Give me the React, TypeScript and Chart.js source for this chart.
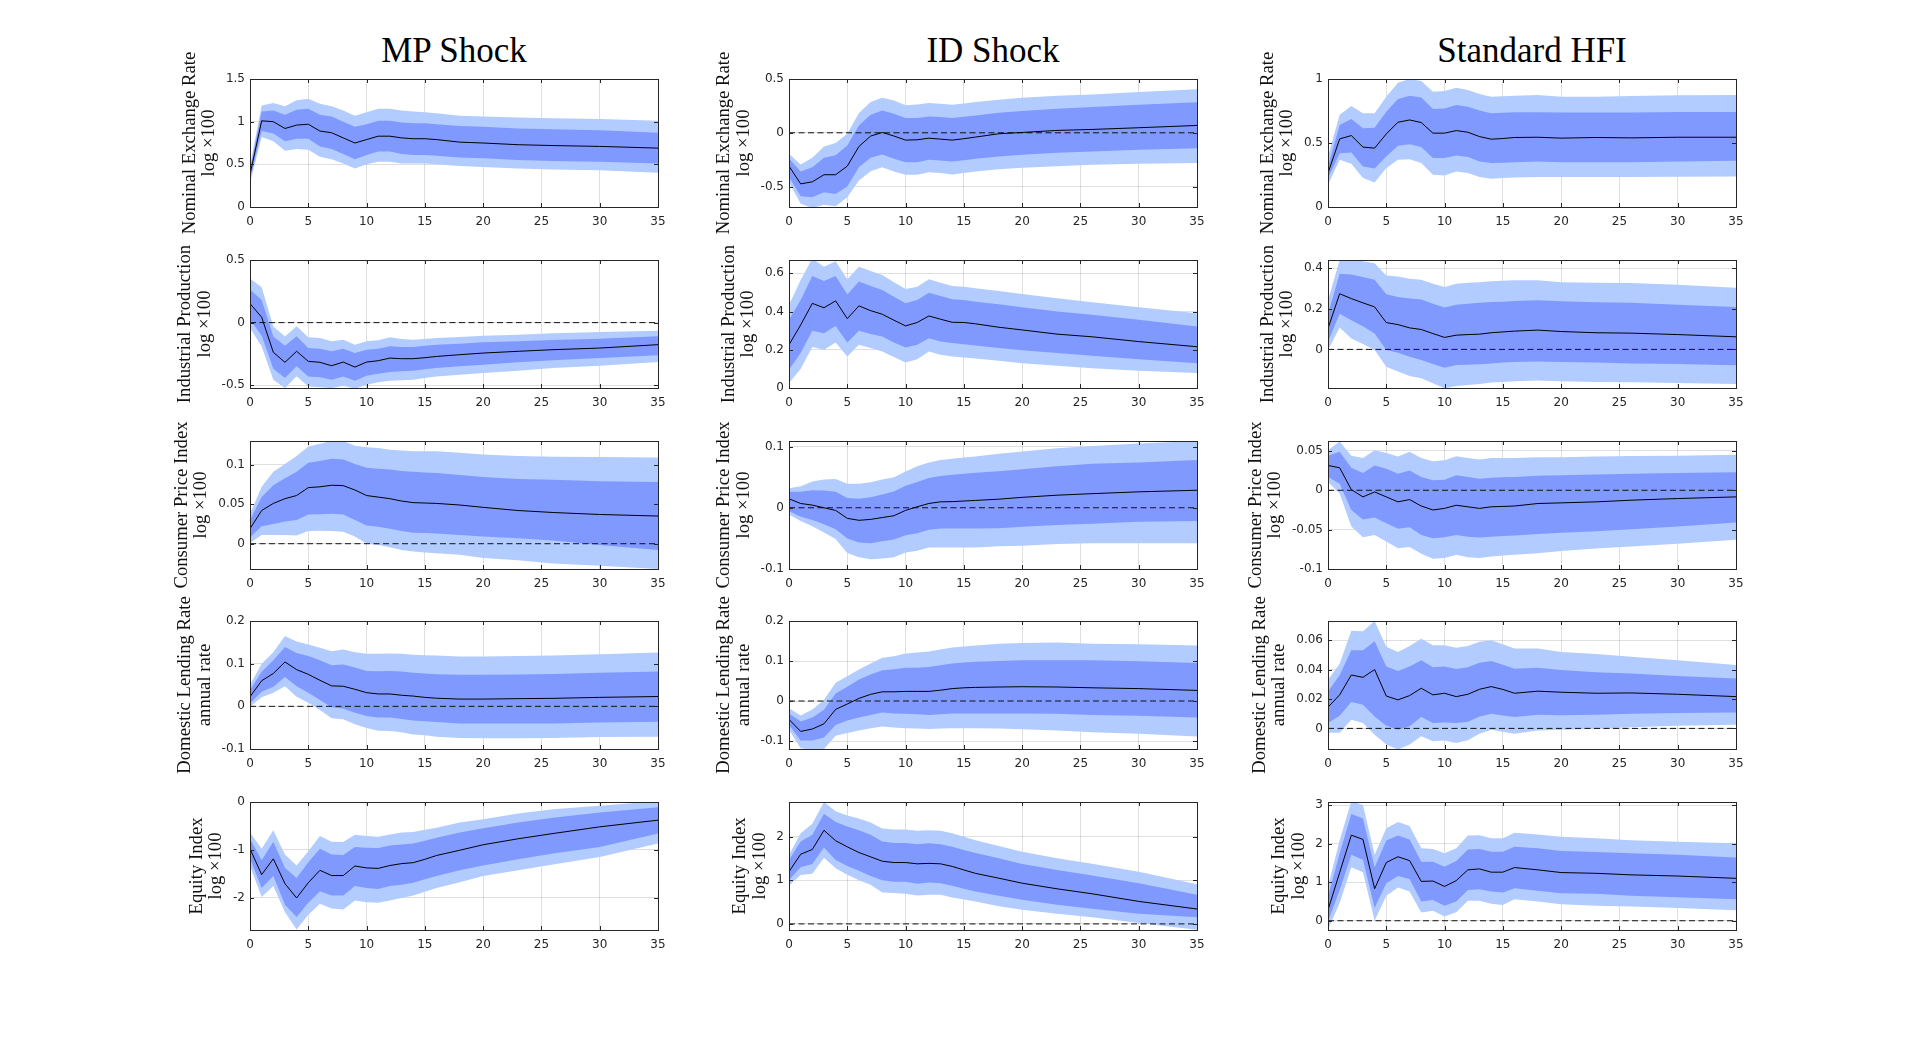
import React, { useEffect, useRef } from 'react';
import { Chart, registerables } from 'chart.js';

Chart.register(...registerables);

const horizons = [0, 1, 2, 3, 4, 5, 6, 7, 8, 9, 10, 11, 12, 13, 14, 15, 16, 18, 20, 23, 26, 30, 35];

const shockTitles = ['MP Shock', 'ID Shock', 'Standard HFI'];
const varLabels = ['Nominal Exchange Rate', 'Industrial Production', 'Consumer Price Index', 'Domestic Lending Rate', 'Equity Index'];
const unitLabels = ['log ×100', 'log ×100', 'log ×100', 'annual rate', 'log ×100'];
const xTicks = [0, 5, 10, 15, 20, 25, 30, 35];

// ---- MP shock ----
const mpNerMed = [0.38, 1.01, 1.0, 0.92, 0.96, 0.97, 0.89, 0.87, 0.81, 0.75, 0.79, 0.83, 0.83, 0.81, 0.8, 0.8, 0.79, 0.76, 0.75, 0.73, 0.72, 0.71, 0.69];
const mpNerLo68 = [0.32, 0.89, 0.86, 0.77, 0.8, 0.8, 0.71, 0.68, 0.62, 0.56, 0.61, 0.65, 0.65, 0.62, 0.61, 0.61, 0.6, 0.58, 0.57, 0.55, 0.54, 0.53, 0.51];
const mpNerHi68 = [0.44, 1.12, 1.13, 1.08, 1.14, 1.15, 1.08, 1.06, 1.0, 0.94, 0.97, 1.01, 1.01, 0.99, 0.98, 0.98, 0.97, 0.95, 0.94, 0.92, 0.91, 0.9, 0.87];
const mpNerLo90 = [0.28, 0.82, 0.77, 0.66, 0.68, 0.67, 0.59, 0.56, 0.51, 0.45, 0.5, 0.53, 0.53, 0.51, 0.51, 0.51, 0.5, 0.48, 0.47, 0.45, 0.44, 0.43, 0.4];
const mpNerHi90 = [0.48, 1.19, 1.22, 1.18, 1.25, 1.27, 1.21, 1.18, 1.13, 1.07, 1.11, 1.15, 1.15, 1.13, 1.12, 1.11, 1.1, 1.07, 1.06, 1.05, 1.04, 1.03, 1.01];

const mpIpMed = [0.152, 0.043, -0.237, -0.317, -0.229, -0.309, -0.317, -0.344, -0.315, -0.355, -0.315, -0.304, -0.283, -0.288, -0.288, -0.28, -0.27, -0.256, -0.243, -0.229, -0.216, -0.203, -0.176];
const mpIpLo68 = [0.024, -0.104, -0.368, -0.443, -0.349, -0.43, -0.437, -0.456, -0.43, -0.464, -0.424, -0.408, -0.395, -0.389, -0.384, -0.373, -0.363, -0.349, -0.336, -0.317, -0.301, -0.283, -0.261];
const mpIpHi68 = [0.264, 0.18, -0.11, -0.184, -0.109, -0.203, -0.208, -0.229, -0.208, -0.243, -0.216, -0.208, -0.189, -0.195, -0.195, -0.185, -0.176, -0.168, -0.157, -0.149, -0.139, -0.128, -0.109];
const mpIpLo90 = [-0.043, -0.19, -0.456, -0.523, -0.429, -0.51, -0.517, -0.523, -0.504, -0.528, -0.496, -0.477, -0.464, -0.461, -0.456, -0.443, -0.43, -0.416, -0.403, -0.384, -0.363, -0.344, -0.315];
const mpIpHi90 = [0.352, 0.283, -0.03, -0.11, -0.029, -0.117, -0.123, -0.149, -0.136, -0.176, -0.149, -0.141, -0.117, -0.131, -0.136, -0.13, -0.123, -0.115, -0.104, -0.096, -0.085, -0.075, -0.064];

const mpCpiMed = [0.019, 0.042, 0.051, 0.057, 0.061, 0.071, 0.072, 0.074, 0.0735, 0.068, 0.061, 0.059, 0.057, 0.054, 0.052, 0.0515, 0.051, 0.049, 0.046, 0.042, 0.0395, 0.037, 0.035];
const mpCpiLo68 = [0.008, 0.022, 0.025, 0.028, 0.03, 0.037, 0.0374, 0.038, 0.037, 0.03, 0.023, 0.0214, 0.019, 0.016, 0.014, 0.0135, 0.013, 0.011, 0.009, 0.007, 0.004, -0.0017, -0.008];
const mpCpiHi68 = [0.03, 0.059, 0.074, 0.083, 0.091, 0.1025, 0.1046, 0.1076, 0.1067, 0.101, 0.096, 0.095, 0.094, 0.092, 0.091, 0.09, 0.0895, 0.087, 0.0845, 0.082, 0.081, 0.079, 0.078];
const mpCpiLo90 = [0.001, 0.011, 0.011, 0.011, 0.0105, 0.016, 0.0164, 0.016, 0.015, 0.009, 0.0, -0.0017, -0.0046, -0.008, -0.01, -0.011, -0.012, -0.014, -0.018, -0.021, -0.025, -0.028, -0.032];
const mpCpiHi90 = [0.038, 0.072, 0.091, 0.101, 0.111, 0.123, 0.1265, 0.13, 0.13, 0.124, 0.122, 0.121, 0.119, 0.118, 0.117, 0.117, 0.117, 0.115, 0.113, 0.111, 0.11, 0.1097, 0.109];

const mpLendMed = [0.0225, 0.06, 0.077, 0.104, 0.086, 0.075, 0.061, 0.048, 0.047, 0.04, 0.032, 0.029, 0.029, 0.026, 0.024, 0.021, 0.019, 0.017, 0.017, 0.018, 0.0187, 0.021, 0.023];
const mpLendLo68 = [0.007, 0.034, 0.046, 0.069, 0.047, 0.032, 0.015, -0.002, -0.0055, -0.015, -0.0225, -0.026, -0.026, -0.0295, -0.033, -0.035, -0.037, -0.04, -0.04, -0.04, -0.04, -0.038, -0.036];
const mpLendHi68 = [0.038, 0.081, 0.108, 0.139, 0.125, 0.118, 0.108, 0.096, 0.098, 0.091, 0.083, 0.082, 0.083, 0.0816, 0.079, 0.077, 0.075, 0.074, 0.074, 0.0746, 0.076, 0.0785, 0.0816];
const mpLendLo90 = [-0.001, 0.021, 0.032, 0.047, 0.0225, 0.0085, -0.0085, -0.028, -0.03, -0.042, -0.051, -0.057, -0.058, -0.061, -0.066, -0.068, -0.071, -0.074, -0.075, -0.0746, -0.074, -0.072, -0.071];
const mpLendHi90 = [0.05, 0.1, 0.127, 0.165, 0.152, 0.145, 0.1375, 0.129, 0.133, 0.127, 0.1235, 0.123, 0.124, 0.1235, 0.121, 0.12, 0.119, 0.117, 0.117, 0.118, 0.119, 0.122, 0.126];

const mpEqMed = [-0.98, -1.52, -1.19, -1.71, -2.01, -1.69, -1.43, -1.54, -1.54, -1.34, -1.38, -1.39, -1.33, -1.29, -1.27, -1.2, -1.12, -1.01, -0.895, -0.77, -0.66, -0.52, -0.38];
const mpEqLo68 = [-1.19, -1.8, -1.55, -2.15, -2.41, -2.11, -1.87, -1.96, -1.96, -1.76, -1.8, -1.82, -1.76, -1.73, -1.69, -1.62, -1.55, -1.43, -1.33, -1.2, -1.08, -0.94, -0.66];
const mpEqHi68 = [-0.77, -1.22, -0.83, -1.38, -1.59, -1.26, -0.98, -1.1, -1.11, -0.94, -0.96, -0.965, -0.91, -0.89, -0.87, -0.81, -0.75, -0.64, -0.55, -0.43, -0.33, -0.22, -0.11];
const mpEqLo90 = [-1.34, -1.99, -1.76, -2.31, -2.67, -2.36, -2.13, -2.23, -2.25, -2.06, -2.1, -2.11, -2.06, -2.01, -1.96, -1.88, -1.8, -1.68, -1.55, -1.43, -1.31, -1.15, -0.87];
const mpEqHi90 = [-0.64, -0.98, -0.59, -1.1, -1.33, -1.03, -0.71, -0.83, -0.84, -0.685, -0.71, -0.73, -0.68, -0.64, -0.63, -0.58, -0.54, -0.43, -0.36, -0.24, -0.15, -0.08, 0.02];

// ---- ID shock ----
const idNerMed = [-0.31, -0.475, -0.456, -0.39, -0.39, -0.31, -0.127, -0.031, 0.003, -0.03, -0.068, -0.065, -0.05, -0.059, -0.068, -0.055, -0.04, -0.009, 0.003, 0.022, 0.031, 0.047, 0.068];
const idNerLo68 = [-0.41, -0.59, -0.6, -0.553, -0.568, -0.5, -0.32, -0.233, -0.202, -0.242, -0.273, -0.273, -0.25, -0.258, -0.267, -0.255, -0.242, -0.22, -0.205, -0.186, -0.174, -0.158, -0.143];
const idNerHi68 = [-0.24, -0.36, -0.32, -0.233, -0.21, -0.118, 0.068, 0.168, 0.208, 0.177, 0.137, 0.137, 0.152, 0.146, 0.137, 0.149, 0.161, 0.186, 0.202, 0.224, 0.239, 0.26, 0.283];
const idNerLo90 = [-0.46, -0.66, -0.7, -0.668, -0.683, -0.6, -0.444, -0.357, -0.32, -0.36, -0.39, -0.39, -0.366, -0.375, -0.388, -0.374, -0.36, -0.34, -0.326, -0.31, -0.298, -0.289, -0.28];
const idNerHi90 = [-0.196, -0.295, -0.233, -0.127, -0.096, -0.009, 0.183, 0.286, 0.326, 0.3, 0.255, 0.264, 0.276, 0.27, 0.26, 0.273, 0.286, 0.307, 0.326, 0.345, 0.357, 0.379, 0.404];

const idIpMed = [0.226, 0.33, 0.443, 0.42, 0.456, 0.363, 0.43, 0.405, 0.386, 0.355, 0.325, 0.343, 0.377, 0.36, 0.344, 0.343, 0.336, 0.318, 0.304, 0.282, 0.268, 0.243, 0.216];
const idIpLo68 = [0.096, 0.183, 0.3, 0.287, 0.325, 0.238, 0.3, 0.283, 0.27, 0.238, 0.212, 0.226, 0.261, 0.243, 0.235, 0.229, 0.223, 0.209, 0.197, 0.183, 0.169, 0.151, 0.13];
const idIpHi68 = [0.357, 0.46, 0.586, 0.56, 0.586, 0.49, 0.557, 0.534, 0.513, 0.478, 0.443, 0.46, 0.499, 0.482, 0.464, 0.46, 0.452, 0.438, 0.423, 0.4, 0.383, 0.357, 0.322];
const idIpLo90 = [0.026, 0.099, 0.214, 0.2, 0.238, 0.165, 0.226, 0.209, 0.191, 0.162, 0.134, 0.151, 0.191, 0.174, 0.165, 0.16, 0.155, 0.143, 0.13, 0.117, 0.104, 0.09, 0.078];
const idIpHi90 = [0.435, 0.565, 0.678, 0.635, 0.664, 0.569, 0.635, 0.612, 0.591, 0.553, 0.518, 0.53, 0.569, 0.551, 0.534, 0.53, 0.522, 0.508, 0.492, 0.47, 0.449, 0.423, 0.391];

const idCpiMed = [0.0146, 0.007, 0.0043, 0.0, -0.0043, -0.0173, -0.0205, -0.019, -0.016, -0.013, -0.0043, 0.0016, 0.007, 0.0097, 0.01, 0.011, 0.012, 0.014, 0.017, 0.0205, 0.023, 0.026, 0.0286];
const idCpiLo68 = [-0.0054, -0.0146, -0.02, -0.027, -0.035, -0.05, -0.0568, -0.058, -0.0546, -0.052, -0.045, -0.0416, -0.036, -0.034, -0.034, -0.034, -0.034, -0.0335, -0.031, -0.028, -0.026, -0.0227, -0.0216];
const idCpiHi68 = [0.026, 0.026, 0.0286, 0.028, 0.026, 0.016, 0.0146, 0.0173, 0.0216, 0.0265, 0.036, 0.042, 0.0486, 0.052, 0.054, 0.0555, 0.057, 0.0595, 0.063, 0.0676, 0.072, 0.074, 0.078];
const idCpiLo90 = [-0.011, -0.0216, -0.03, -0.0405, -0.051, -0.074, -0.081, -0.084, -0.083, -0.081, -0.073, -0.07, -0.065, -0.065, -0.065, -0.065, -0.065, -0.063, -0.062, -0.059, -0.058, -0.058, -0.058];
const idCpiHi90 = [0.032, 0.035, 0.043, 0.046, 0.047, 0.039, 0.039, 0.0416, 0.046, 0.05, 0.059, 0.0676, 0.074, 0.078, 0.08, 0.082, 0.0838, 0.088, 0.092, 0.097, 0.101, 0.105, 0.109];

const idLendMed = [-0.046, -0.076, -0.07, -0.057, -0.021, -0.0075, 0.0066, 0.0166, 0.023, 0.023, 0.024, 0.024, 0.024, 0.027, 0.031, 0.033, 0.034, 0.035, 0.0357, 0.035, 0.033, 0.031, 0.0265];
const idLendLo68 = [-0.06, -0.099, -0.099, -0.091, -0.06, -0.049, -0.041, -0.035, -0.029, -0.031, -0.032, -0.033, -0.035, -0.033, -0.0315, -0.031, -0.031, -0.031, -0.031, -0.032, -0.035, -0.037, -0.041];
const idLendHi68 = [-0.031, -0.051, -0.041, -0.022, 0.019, 0.0357, 0.054, 0.066, 0.077, 0.0796, 0.083, 0.083, 0.085, 0.0896, 0.094, 0.096, 0.098, 0.1, 0.102, 0.102, 0.102, 0.0995, 0.095];
const idLendLo90 = [-0.072, -0.118, -0.122, -0.12, -0.087, -0.08, -0.074, -0.068, -0.064, -0.066, -0.068, -0.069, -0.07, -0.069, -0.068, -0.068, -0.068, -0.069, -0.0705, -0.074, -0.078, -0.082, -0.089];
const idLendHi90 = [-0.018, -0.0365, -0.021, 0.0025, 0.0456, 0.062, 0.079, 0.094, 0.108, 0.112, 0.1186, 0.121, 0.124, 0.129, 0.1335, 0.136, 0.139, 0.143, 0.145, 0.146, 0.143, 0.142, 0.139];

const idEqMed = [1.2, 1.6, 1.71, 2.15, 1.91, 1.77, 1.64, 1.54, 1.44, 1.41, 1.41, 1.38, 1.39, 1.38, 1.32, 1.24, 1.16, 1.05, 0.935, 0.806, 0.692, 0.517, 0.342];
const idEqLo68 = [1.01, 1.3, 1.376, 1.757, 1.47, 1.33, 1.22, 1.1, 1.0, 0.97, 0.97, 0.92, 0.95, 0.935, 0.875, 0.81, 0.745, 0.646, 0.555, 0.44, 0.35, 0.236, 0.152];
const idEqHi68 = [1.47, 1.89, 2.05, 2.53, 2.34, 2.24, 2.15, 2.05, 1.89, 1.86, 1.86, 1.83, 1.85, 1.83, 1.77, 1.7, 1.63, 1.51, 1.376, 1.24, 1.11, 0.935, 0.67];
const idEqLo90 = [0.875, 1.125, 1.15, 1.52, 1.28, 1.13, 1.0, 0.9, 0.72, 0.707, 0.69, 0.654, 0.669, 0.669, 0.608, 0.56, 0.517, 0.403, 0.327, 0.236, 0.152, 0.023, -0.137];
const idEqHi90 = [1.58, 2.08, 2.3, 2.8, 2.59, 2.49, 2.42, 2.33, 2.19, 2.17, 2.17, 2.14, 2.15, 2.14, 2.08, 2.0, 1.92, 1.79, 1.66, 1.51, 1.38, 1.2, 0.91];

// ---- Standard HFI ----
const hfNerMed = [0.265, 0.532, 0.558, 0.468, 0.46, 0.571, 0.662, 0.68, 0.66, 0.577, 0.577, 0.597, 0.584, 0.55, 0.53, 0.535, 0.543, 0.545, 0.538, 0.543, 0.54, 0.545, 0.545];
const hfNerLo68 = [0.226, 0.42, 0.426, 0.317, 0.3, 0.395, 0.478, 0.49, 0.468, 0.382, 0.382, 0.403, 0.39, 0.356, 0.343, 0.346, 0.35, 0.356, 0.35, 0.35, 0.35, 0.356, 0.361];
const hfNerHi68 = [0.317, 0.64, 0.688, 0.616, 0.62, 0.745, 0.844, 0.87, 0.855, 0.766, 0.77, 0.797, 0.784, 0.753, 0.732, 0.736, 0.74, 0.74, 0.738, 0.738, 0.738, 0.743, 0.743];
const hfNerLo90 = [0.174, 0.369, 0.338, 0.226, 0.192, 0.304, 0.369, 0.374, 0.343, 0.252, 0.247, 0.278, 0.265, 0.234, 0.221, 0.226, 0.231, 0.234, 0.234, 0.234, 0.234, 0.236, 0.239];
const hfNerHi90 = [0.395, 0.72, 0.79, 0.732, 0.732, 0.862, 0.97, 1.0, 0.985, 0.9, 0.906, 0.932, 0.914, 0.883, 0.862, 0.866, 0.87, 0.875, 0.862, 0.862, 0.868, 0.873, 0.875];

const hfIpMed = [0.103, 0.274, 0.25, 0.229, 0.209, 0.132, 0.122, 0.106, 0.098, 0.078, 0.059, 0.07, 0.073, 0.075, 0.082, 0.086, 0.09, 0.095, 0.088, 0.082, 0.08, 0.073, 0.062];
const hfIpLo68 = [0.0375, 0.176, 0.144, 0.114, 0.078, -0.003, -0.016, -0.036, -0.052, -0.072, -0.09, -0.077, -0.075, -0.073, -0.069, -0.065, -0.062, -0.059, -0.062, -0.065, -0.069, -0.072, -0.078];
const hfIpHi68 = [0.176, 0.372, 0.369, 0.356, 0.343, 0.271, 0.258, 0.25, 0.245, 0.225, 0.206, 0.22, 0.225, 0.229, 0.233, 0.235, 0.238, 0.242, 0.237, 0.232, 0.229, 0.22, 0.209];
const hfIpLo90 = [-0.003, 0.108, 0.054, 0.026, -0.003, -0.085, -0.109, -0.131, -0.142, -0.167, -0.191, -0.18, -0.175, -0.17, -0.163, -0.16, -0.157, -0.153, -0.157, -0.16, -0.162, -0.165, -0.17];
const hfIpHi90 = [0.242, 0.44, 0.446, 0.434, 0.424, 0.364, 0.359, 0.348, 0.343, 0.323, 0.307, 0.323, 0.328, 0.331, 0.335, 0.338, 0.34, 0.34, 0.331, 0.328, 0.327, 0.318, 0.304];

const hfCpiMed = [0.0315, 0.0286, 0.0008, -0.0084, -0.0021, -0.0084, -0.0147, -0.0118, -0.02, -0.025, -0.023, -0.019, -0.021, -0.023, -0.021, -0.0205, -0.02, -0.0168, -0.016, -0.0147, -0.0126, -0.0105, -0.0084];
const hfCpiLo68 = [0.0168, 0.0084, -0.025, -0.037, -0.0345, -0.042, -0.049, -0.047, -0.0567, -0.061, -0.0597, -0.0567, -0.059, -0.06, -0.059, -0.058, -0.0575, -0.0555, -0.054, -0.052, -0.0496, -0.046, -0.041];
const hfCpiHi68 = [0.044, 0.049, 0.0286, 0.0218, 0.0315, 0.0273, 0.021, 0.025, 0.0168, 0.0126, 0.0134, 0.019, 0.0168, 0.0147, 0.016, 0.0165, 0.0168, 0.0185, 0.019, 0.02, 0.021, 0.0218, 0.023];
const hfCpiLo90 = [0.0105, -0.0042, -0.046, -0.0597, -0.0567, -0.065, -0.0735, -0.072, -0.0807, -0.087, -0.086, -0.082, -0.085, -0.086, -0.084, -0.083, -0.082, -0.08, -0.077, -0.074, -0.0714, -0.068, -0.063];
const hfCpiHi90 = [0.051, 0.062, 0.044, 0.041, 0.051, 0.0475, 0.043, 0.049, 0.041, 0.037, 0.038, 0.0433, 0.041, 0.039, 0.041, 0.041, 0.041, 0.042, 0.042, 0.043, 0.0437, 0.044, 0.045];

const hfLendMed = [0.0144, 0.0228, 0.0363, 0.0347, 0.04, 0.022, 0.0194, 0.0223, 0.0273, 0.0228, 0.0239, 0.0216, 0.0232, 0.0266, 0.0284, 0.0265, 0.0239, 0.0253, 0.0246, 0.0239, 0.0241, 0.0232, 0.0216];
const hfLendLo68 = [0.0036, 0.0086, 0.018, 0.016, 0.0081, 0.0018, -0.0009, 0.0014, 0.0077, 0.0036, 0.004, 0.0036, 0.0045, 0.0081, 0.0099, 0.0088, 0.0077, 0.0092, 0.009, 0.0092, 0.0099, 0.0104, 0.0108];
const hfLendHi68 = [0.025, 0.0363, 0.0532, 0.0532, 0.0593, 0.042, 0.039, 0.042, 0.0464, 0.0415, 0.042, 0.0404, 0.0415, 0.0446, 0.0458, 0.0432, 0.0406, 0.0413, 0.0397, 0.0381, 0.0374, 0.0356, 0.034];
const hfLendLo90 = [-0.003, -0.003, 0.0059, 0.0036, -0.0043, -0.011, -0.0144, -0.011, -0.0054, -0.0088, -0.0083, -0.0099, -0.0081, -0.0036, -0.0009, -0.0022, -0.0036, -0.0014, -0.0009, -0.0002, 0.0007, 0.0018, 0.0025];
const hfLendHi90 = [0.033, 0.044, 0.0663, 0.066, 0.073, 0.0555, 0.052, 0.056, 0.061, 0.0566, 0.0566, 0.0548, 0.056, 0.0589, 0.06, 0.0572, 0.0543, 0.0543, 0.052, 0.0505, 0.0487, 0.0464, 0.0431];

const hfEqMed = [0.28, 1.25, 2.22, 2.11, 0.83, 1.51, 1.66, 1.56, 1.02, 1.03, 0.89, 1.04, 1.32, 1.345, 1.26, 1.26, 1.38, 1.32, 1.25, 1.23, 1.19, 1.16, 1.1];
const hfEqLo68 = [-0.02, 0.8, 1.71, 1.58, 0.33, 0.97, 1.16, 1.08, 0.5, 0.54, 0.39, 0.5, 0.8, 0.82, 0.76, 0.73, 0.845, 0.78, 0.715, 0.7, 0.65, 0.61, 0.56];
const hfEqHi68 = [0.63, 1.75, 2.77, 2.655, 1.39, 2.08, 2.21, 2.11, 1.53, 1.53, 1.4, 1.55, 1.85, 1.86, 1.79, 1.79, 1.92, 1.88, 1.81, 1.78, 1.75, 1.71, 1.64];
const hfEqLo90 = [-0.23, 0.46, 1.39, 1.26, 0.0, 0.65, 0.86, 0.76, 0.216, 0.26, 0.11, 0.22, 0.52, 0.52, 0.44, 0.41, 0.56, 0.5, 0.43, 0.39, 0.37, 0.33, 0.27];
const hfEqHi90 = [0.89, 2.09, 3.1, 3.0, 1.71, 2.4, 2.56, 2.46, 1.88, 1.86, 1.75, 1.88, 2.21, 2.22, 2.14, 2.14, 2.28, 2.24, 2.18, 2.14, 2.09, 2.05, 2.01];

// y-axis limits and ticks per panel [row][col]
const yLimits = [
  [[0, 1.5], [-0.69, 0.5], [0, 1]],
  [[-0.522, 0.5], [0, 0.67], [-0.19, 0.44]],
  [[-0.032, 0.13], [-0.1, 0.109], [-0.1, 0.0626]],
  [[-0.1, 0.2], [-0.12, 0.2], [-0.014, 0.073]],
  [[-2.68, 0], [-0.14, 2.8], [-0.24, 3.08]],
];
const yTicks = [
  [[0, 0.5, 1, 1.5], [-0.5, 0, 0.5], [0, 0.5, 1]],
  [[-0.5, 0, 0.5], [0, 0.2, 0.4, 0.6], [0, 0.2, 0.4]],
  [[0, 0.05, 0.1], [-0.1, 0, 0.1], [-0.1, -0.05, 0, 0.05]],
  [[-0.1, 0, 0.1, 0.2], [-0.1, 0, 0.1, 0.2], [0, 0.02, 0.04, 0.06]],
  [[-2, -1, 0], [0, 1, 2], [0, 1, 2, 3]],
];

type Series = { med: number[]; lo68: number[]; hi68: number[]; lo90: number[]; hi90: number[] };

const series: Series[][] = [
  [
    { med: mpNerMed, lo68: mpNerLo68, hi68: mpNerHi68, lo90: mpNerLo90, hi90: mpNerHi90 },
    { med: idNerMed, lo68: idNerLo68, hi68: idNerHi68, lo90: idNerLo90, hi90: idNerHi90 },
    { med: hfNerMed, lo68: hfNerLo68, hi68: hfNerHi68, lo90: hfNerLo90, hi90: hfNerHi90 },
  ],
  [
    { med: mpIpMed, lo68: mpIpLo68, hi68: mpIpHi68, lo90: mpIpLo90, hi90: mpIpHi90 },
    { med: idIpMed, lo68: idIpLo68, hi68: idIpHi68, lo90: idIpLo90, hi90: idIpHi90 },
    { med: hfIpMed, lo68: hfIpLo68, hi68: hfIpHi68, lo90: hfIpLo90, hi90: hfIpHi90 },
  ],
  [
    { med: mpCpiMed, lo68: mpCpiLo68, hi68: mpCpiHi68, lo90: mpCpiLo90, hi90: mpCpiHi90 },
    { med: idCpiMed, lo68: idCpiLo68, hi68: idCpiHi68, lo90: idCpiLo90, hi90: idCpiHi90 },
    { med: hfCpiMed, lo68: hfCpiLo68, hi68: hfCpiHi68, lo90: hfCpiLo90, hi90: hfCpiHi90 },
  ],
  [
    { med: mpLendMed, lo68: mpLendLo68, hi68: mpLendHi68, lo90: mpLendLo90, hi90: mpLendHi90 },
    { med: idLendMed, lo68: idLendLo68, hi68: idLendHi68, lo90: idLendLo90, hi90: idLendHi90 },
    { med: hfLendMed, lo68: hfLendLo68, hi68: hfLendHi68, lo90: hfLendLo90, hi90: hfLendHi90 },
  ],
  [
    { med: mpEqMed, lo68: mpEqLo68, hi68: mpEqHi68, lo90: mpEqLo90, hi90: mpEqHi90 },
    { med: idEqMed, lo68: idEqLo68, hi68: idEqHi68, lo90: idEqLo90, hi90: idEqHi90 },
    { med: hfEqMed, lo68: hfEqLo68, hi68: hfEqHi68, lo90: hfEqLo90, hi90: hfEqHi90 },
  ],
];

// layout (matches the subplot grid of the figure)
const COL_LEFT = [250, 789, 1328];
const ROW_TOP = [79, 260, 441, 621, 802];
const PLOT_W = 408;
const PLOT_H = 128;
const PAD_L = 140;
const PAD_T = 50;
const PAD_R = 24;
const PAD_B = 50;

const DARK = 'rgb(128,153,255)';
const LIGHT = 'rgb(179,204,255)';
const AXIS = '#262626';
const SERIF = "'Liberation Serif', 'Times New Roman', serif";
const SANS = "'DejaVu Sans', 'Liberation Sans', Arial, sans-serif";

const toPts = (vals: number[]) => horizons.map((h, i) => ({ x: h, y: vals[i] }));

// box round the plot and MATLAB-style inward tick marks
const boxPlugin = {
  id: 'matlabBox',
  afterDatasetsDraw(chart: any) {
    const { ctx, chartArea: a, scales } = chart;
    const x = scales.x;
    const y = scales.y;
    const al = (v: number) => Math.round(v) + 0.5;
    const tl = 4;
    ctx.save();
    ctx.strokeStyle = AXIS;
    ctx.lineWidth = 1;
    ctx.beginPath();
    x.ticks.forEach((t: any) => {
      const px = al(x.getPixelForValue(t.value));
      ctx.moveTo(px, a.bottom);
      ctx.lineTo(px, a.bottom - tl);
      ctx.moveTo(px, a.top);
      ctx.lineTo(px, a.top + tl);
    });
    y.ticks.forEach((t: any) => {
      const py = al(y.getPixelForValue(t.value));
      ctx.moveTo(a.left, py);
      ctx.lineTo(a.left + tl, py);
      ctx.moveTo(a.right, py);
      ctx.lineTo(a.right - tl, py);
    });
    ctx.stroke();
    const l = al(a.left);
    const t = al(a.top);
    ctx.strokeRect(l, t, al(a.right) - l, al(a.bottom) - t);
    ctx.restore();
  },
};

interface PanelProps {
  row: number;
  col: number;
}

const Panel: React.FC<PanelProps> = ({ row, col }) => {
  const canvasRef = useRef<HTMLCanvasElement>(null);

  useEffect(() => {
    if (!canvasRef.current) return;
    const s = series[row][col];
    const [yMin, yMax] = yLimits[row][col];
    const ticks = yTicks[row][col];
    const padding = { left: 0, top: PAD_T, right: PAD_R, bottom: 0 };
    const band = { pointRadius: 0, borderWidth: 0, borderColor: 'rgba(0,0,0,0)', clip: 0 };
    // zero reference line only where zero lies inside the axis
    const zeroLine = yMin < 0 && yMax > 0 ? [{ x: 0, y: 0 }, { x: 35, y: 0 }] : [];

    const chart = new Chart(canvasRef.current, {
      type: 'line',
      data: {
        datasets: [
          { data: toPts(s.med), borderColor: '#000', borderWidth: 1, pointRadius: 0, fill: false, clip: 0 },
          {
            data: zeroLine,
            borderColor: '#111',
            borderWidth: 1,
            borderDash: [6, 3.5],
            pointRadius: 0,
            fill: false,
            clip: 0,
          },
          { ...band, data: toPts(s.hi68), fill: '+1', backgroundColor: DARK },
          { ...band, data: toPts(s.lo68), fill: false },
          { ...band, data: toPts(s.hi90), fill: '+1', backgroundColor: LIGHT },
          { ...band, data: toPts(s.lo90), fill: false },
        ] as any,
      },
      options: {
        animation: false,
        responsive: false,
        devicePixelRatio: 1,
        layout: { padding },
        plugins: { legend: { display: false }, tooltip: { enabled: false } },
        elements: { line: { tension: 0 } },
        scales: {
          x: {
            type: 'linear',
            min: 0,
            max: 35,
            afterBuildTicks: (scale: any) => {
              scale.ticks = xTicks.map((v) => ({ value: v }));
            },
            grid: { color: 'rgba(38,38,38,0.15)', drawTicks: false },
            border: { display: false },
            ticks: {
              autoSkip: false,
              maxRotation: 0,
              padding: 8,
              color: AXIS,
              font: { family: SANS, size: 12 },
              callback: (v: any) => String(v),
            },
          },
          y: {
            type: 'linear',
            min: yMin,
            max: yMax,
            afterBuildTicks: (scale: any) => {
              scale.ticks = ticks.map((v) => ({ value: v }));
            },
            grid: { color: 'rgba(38,38,38,0.15)', drawTicks: false },
            border: { display: false },
            ticks: {
              autoSkip: false,
              padding: 5,
              color: AXIS,
              font: { family: SANS, size: 12 },
              callback: (v: any) => String(v),
            },
            title: {
              display: true,
              text: [varLabels[row], unitLabels[row]],
              color: '#111',
              font: { family: SERIF, size: 18.7, lineHeight: 1.04 },
              padding: { top: 0, bottom: 2 },
            },
          },
        },
      } as any,
      plugins: [boxPlugin],
    });

    // shift the paddings so the plot box lands exactly on the grid
    for (let i = 0; i < 2; i++) {
      const a = chart.chartArea;
      padding.left += PAD_L - a.left;
      padding.top += PAD_T - a.top;
      padding.right += a.right - (PAD_L + PLOT_W);
      padding.bottom += a.bottom - (PAD_T + PLOT_H);
      chart.update();
    }

    return () => {
      chart.destroy();
    };
  }, [row, col]);

  return (
    <div
      style={{
        position: 'absolute',
        left: COL_LEFT[col] - PAD_L,
        top: ROW_TOP[row] - PAD_T,
        width: PLOT_W + PAD_L + PAD_R,
        height: PLOT_H + PAD_T + PAD_B,
      }}
    >
      <canvas
        ref={canvasRef}
        width={PLOT_W + PAD_L + PAD_R}
        height={PLOT_H + PAD_T + PAD_B}
        style={{ display: 'block' }}
      />
    </div>
  );
};

const App: React.FC = () => {
  useEffect(() => {
    document.body.style.overflow = 'hidden';
  }, []);

  return (
    <div style={{ position: 'absolute', left: 0, top: 0, width: 1920, height: 1046, background: '#fff', overflow: 'hidden' }}>
      {shockTitles.map((t, c) => (
        <div
          key={t}
          style={{
            position: 'absolute',
            left: COL_LEFT[c],
            width: PLOT_W,
            top: 33,
            textAlign: 'center',
            fontFamily: SERIF,
            fontSize: 35,
            lineHeight: '35px',
            color: '#000',
            whiteSpace: 'nowrap',
          }}
        >
          {t}
        </div>
      ))}
      {ROW_TOP.map((_, r) => COL_LEFT.map((__, c) => <Panel key={`${r}-${c}`} row={r} col={c} />))}
    </div>
  );
};

export default App;
